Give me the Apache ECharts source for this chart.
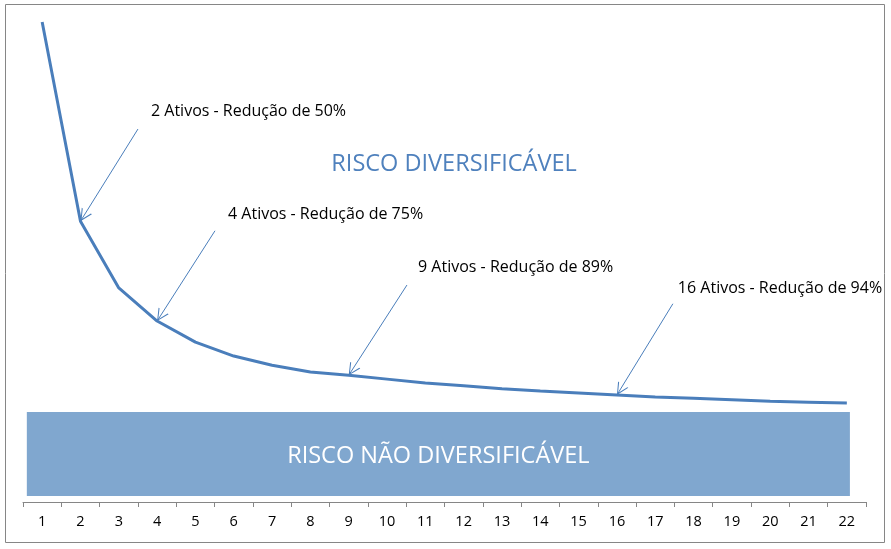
<!DOCTYPE html>
<html>
<head>
<meta charset="utf-8">
<script src="https://cdn.jsdelivr.net/npm/echarts@6/dist/echarts.min.js"></script>
<style>
  html, body { margin: 0; padding: 0; background: #fff; }
  #main { width: 891px; height: 549px; }
</style>
</head>
<body>
<div id="main"></div>
<script>
// eixo x: numero de ativos na carteira
var ativos = ['1','2','3','4','5','6','7','8','9','10','11','12','13','14','15','16','17','18','19','20','21','22'];
// risco total da carteira (escala 0-100)
var risco = [100, 58.5, 44.6, 37.7, 33.3, 30.4, 28.5, 27.1, 26.4, 25.6, 24.8, 24.2, 23.6, 23.1, 22.7, 22.3, 21.9, 21.6, 21.3, 21.0, 20.8, 20.6];
// pontos anotados (indice no eixo) e textos
var destaqueAtivos = [2, 4, 9, 16];
var destaqueTextos = ['2 Ativos - Redução de 50%', '4 Ativos - Redução de 75%', '9 Ativos - Redução de 89%', '16 Ativos - Redução de 94%'];
// faixa do risco nao diversificavel (mesma escala)
var riscoSistematico = [1.25, 18.75];

var myChart = echarts.init(document.getElementById('main'));

// onde comeca cada seta e onde fica o texto (eixo x auxiliar 0.5..22.5)
var setaInicio = [[3.50, 77.7], [5.51, 56.5], [10.52, 45.2], [17.46, 41.3]];
var textoPos = [[3.84, 81.3], [5.85, 60.0], [10.81, 48.8], [17.59, 44.4]];

var fonte = '"Open Sans", "Noto Sans", sans-serif';
var azul = '#4A7EBB';
// ponta de seta aberta, com a ponta no centro do simbolo
var pontaSeta = 'path://M5,-10 L5.01,-10 L5,-9.99 Z M5,0 L10,10 L9,10 L5,1.8 L1,10 L0,10 Z';

var setas = destaqueAtivos.map(function (n, i) {
  return [{ coord: setaInicio[i] }, { coord: [n, risco[n - 1]] }];
});
var textos = destaqueTextos.map(function (t, i) {
  return {
    coord: textoPos[i],
    value: t,
    label: { formatter: t }
  };
});
textos.push({
  coord: [11.75, 70.4],
  value: 'RISCO DIVERSIFICÁVEL',
  label: { formatter: 'RISCO DIVERSIFICÁVEL', position: 'inside', color: '#4F81BD', fontSize: 23.5 }
});

var option = {
  animation: false,
  backgroundColor: '#fff',
  graphic: [{ // moldura
    type: 'rect',
    shape: { x: 5.5, y: 4.5, width: 879, height: 538 },
    style: { fill: 'none', stroke: '#868686', lineWidth: 1 },
    silent: true
  }],
  grid: { left: 23, right: 25, top: 22, bottom: 47 },
  xAxis: [{
    type: 'category',
    data: ativos,
    boundaryGap: true,
    axisLine: { lineStyle: { color: '#868686', width: 1 } },
    axisTick: { show: true, length: 5, lineStyle: { color: '#868686' } },
    axisLabel: { color: '#000', fontSize: 14.5, fontFamily: fonte, margin: 12 },
    splitLine: { show: false }
  }, {
    type: 'value', // eixo auxiliar para as anotacoes
    min: 0.5,
    max: 22.5,
    show: false
  }],
  yAxis: {
    type: 'value',
    min: 0,
    max: 100,
    show: false,
    splitLine: { show: false }
  },
  series: [{
    name: 'Risco',
    type: 'line',
    data: risco,
    symbol: 'none',
    z: 3,
    lineStyle: { color: azul, width: 3 }
  }, {
    name: 'anotacoes',
    type: 'line',
    xAxisIndex: 1,
    data: [],
    silent: true,
    markArea: {
      silent: true,
      itemStyle: { color: '#80A7CF' },
      label: {
        show: true,
        position: 'inside',
        color: '#fff',
        fontSize: 23.5,
        fontFamily: fonte,
        offset: [0, 2]
      },
      data: [[
        { name: 'RISCO NÃO DIVERSIFICÁVEL', coord: [0.6, riscoSistematico[0]] },
        { coord: [22.08, riscoSistematico[1]] }
      ]]
    },
    markLine: {
      silent: true,
      symbol: ['none', pontaSeta],
      symbolSize: [12, 24],
      lineStyle: { color: azul, width: 1, type: 'solid' },
      label: { show: false },
      data: setas
    },
    markPoint: {
      silent: true,
      symbol: 'circle',
      symbolSize: 0,
      label: {
        show: true,
        position: 'right',
        distance: 0,
        color: '#000',
        fontSize: 16,
        fontFamily: fonte
      },
      data: textos
    }
  }]
};

myChart.setOption(option);
</script>
</body>
</html>
